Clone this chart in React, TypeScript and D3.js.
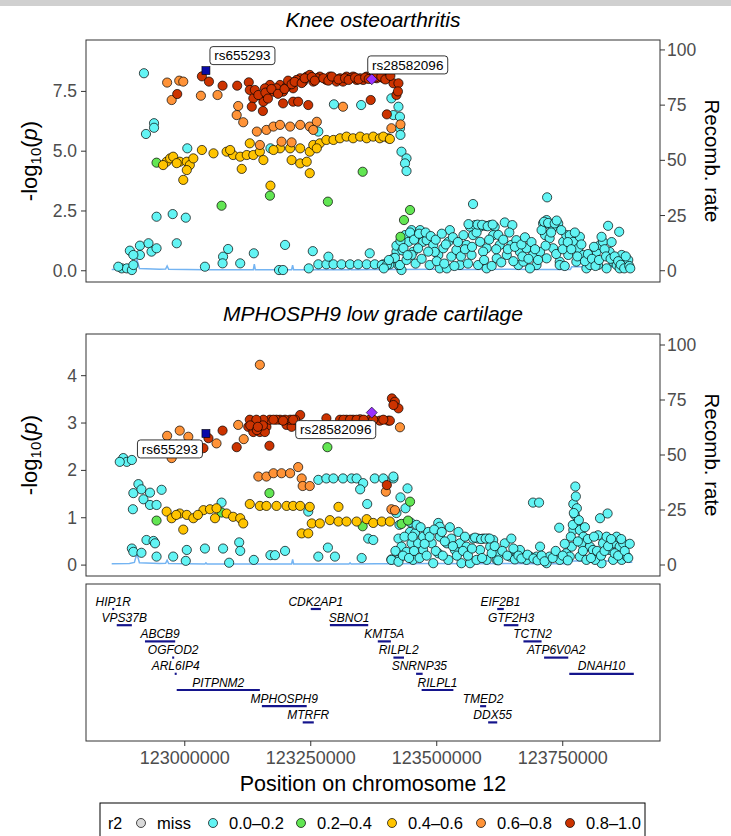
import React from 'react';
import * as d3 from 'd3';

// ---------- DATA (positions in kb on chr12, values -log10 p) ----------
const xTicks = [123000, 123250, 123500, 123750];
const kneeTicks = [0, 2.5, 5, 7.5];
const cartTicks = [0, 1, 2, 3, 4];
const recombTicks = [0, 25, 50, 75, 100];
const legendLabels = ['miss', '0.0\u20130.2', '0.2\u20130.4', '0.4\u20130.6', '0.6\u20130.8', '0.8\u20131.0'];

const leadNames = ['rs655293', 'rs28582096'];
const leadPos = [123042, 123371];
const kneeLead = [8.37, 8.01];
const cartLead = [2.78, 3.22];

// Knee osteoarthritis
const knee0: [number, number][] = [
  [122919, 8.26], [122923, 5.72], [122939, 6.17], [122939, 5.98], [123005, 5.12], [123170, 5.12],
  [123296, 6.96], [123350, 6.93], [123265, 5.82], [122944, 2.26], [122976, 2.37], [123002, 2.22],
  [123410, 7.21], [123424, 6.86], [123414, 6.51], [123427, 6.44], [123427, 5.96], [123428, 5.68],
  [123430, 4.98], [123440, 4.70], [123437, 4.49], [123440, 4.17],
  [122891, 0.84], [122911, 1.05], [122928, 1.15], [122934, 0.80], [122944, 0.94], [122911, 0.66],
  [122898, 0.66], [122984, 1.15], [122875, 0.10], [122885, 0.10], [122895, 0.03], [122898, 0.24],
  [122868, 0.17], [123040, 0.17], [123076, 0.59], [123086, 0.91], [123075, 0.31], [123110, 0.31],
  [123137, 0.73], [123199, 1.08], [123187, 0.03], [123195, 0.03], [123254, 0.82], [123246, 0.10],
  [123265, 0.27], [123281, 0.27], [123295, 0.27], [123311, 0.27], [123328, 0.27], [123344, 0.27],
  [123361, 0.27], [123377, 0.27], [123394, 0.27], [123407, 0.27], [123285, 0.59], [123367, 0.73],
  [123420, 0.80], [123430, 0.03], [123414, 0.52], [123424, 0.24],
  [123391, 0.24], [123401, 0.24], [123417, 0.54], [123427, 0.24], [123437, 1.49], [123444, 1.21],
  [123450, 1.70], [123460, 1.49], [123467, 1.70], [123453, 0.79], [123473, 1.21], [123450, 0.66],
  [123463, 0.94], [123480, 1.28], [123493, 1.08], [123503, 0.66], [123506, 0.10], [123513, 0.94],
  [123523, 1.21], [123526, 1.70], [123529, 0.59], [123539, 0.87], [123546, 0.24], [123553, 1.49],
  [123559, 1.08], [123520, 0.10], [123486, 0.24], [123496, 0.79], [123566, 1.84], [123576, 1.91],
  [123586, 1.84], [123596, 1.88], [123606, 1.91], [123615, 1.84], [123572, 1.49], [123586, 1.21],
  [123599, 0.94], [123612, 1.49], [123569, 0.66], [123582, 0.24], [123599, 0.10], [123619, 0.52],
  [123572, 2.79], [123635, 2.02], [123650, 1.91], [123625, 1.08], [123639, 0.66], [123648, 1.08],
  [123658, 1.28], [123665, 0.79], [123678, 0.94], [123691, 0.66], [123698, 0.24], [123685, 0.10],
  [123662, 0.24], [123672, 0.38], [123705, 0.79], [123711, 1.98], [123718, 2.12], [123724, 1.91],
  [123731, 1.84], [123741, 1.98], [123719, 3.07], [123715, 1.49], [123724, 1.36], [123731, 0.94],
  [123744, 0.38], [123718, 0.52], [123751, 1.21], [123757, 1.49], [123764, 1.49], [123771, 1.21],
  [123781, 0.94], [123791, 0.66], [123777, 0.38], [123797, 0.10], [123804, 0.24], [123784, 1.42],
  [123744, 0.24], [123761, 0.66], [123817, 0.79], [123824, 1.08], [123830, 1.21], [123840, 1.88],
  [123862, 1.63], [123843, 0.79], [123850, 0.38], [123857, 0.24], [123863, 0.10], [123870, 0.38],
  [123877, 0.24], [123837, 0.10], [123827, 1.42], [123820, 0.24], [123867, 0.66], [123880, 0.45],
  [123395, 0.10], [123405, 0.45], [123420, 1.05], [123432, 0.85], [123440, 0.45], [123447, 1.60],
  [123455, 1.30], [123458, 0.30], [123465, 1.55], [123470, 0.50], [123478, 1.60], [123483, 0.80],
  [123488, 1.45], [123498, 1.30], [123500, 0.40], [123510, 1.55], [123515, 0.30], [123518, 1.10],
  [123532, 1.40], [123535, 0.20], [123542, 1.20], [123548, 0.60], [123556, 0.90], [123562, 0.30],
  [123563, 1.95], [123570, 1.00], [123579, 1.60], [123581, 1.93], [123590, 1.92], [123592, 0.80],
  [123594, 0.45], [123601, 1.86], [123604, 1.30], [123609, 0.20], [123611, 1.93], [123618, 0.90],
  [123622, 1.50], [123628, 0.35], [123632, 1.30], [123641, 0.90], [123644, 1.60], [123652, 0.40],
  [123655, 1.00], [123668, 1.10], [123670, 0.60], [123675, 1.40], [123682, 0.50], [123688, 1.20],
  [123695, 0.90], [123701, 0.45], [123708, 1.70], [123713, 2.05], [123716, 1.05], [123721, 2.00],
  [123727, 1.60], [123734, 1.98], [123737, 0.70], [123738, 2.10], [123747, 1.70], [123750, 0.90],
  [123754, 0.20], [123760, 1.20], [123767, 0.90], [123774, 1.60], [123779, 0.60], [123787, 1.10],
  [123794, 0.40], [123800, 0.70], [123808, 0.50], [123812, 1.00], [123815, 0.20], [123822, 0.45],
  [123833, 0.90], [123836, 0.60], [123845, 0.50], [123847, 1.20], [123853, 0.60], [123860, 0.40],
  [123865, 0.25], [123872, 0.10], [123875, 0.60], [123882, 0.20], [123884, 0.10],
  [123428, 1.25], [123434, 0.95], [123442, 0.65],
];
const knee2: [number, number][] = [
  [122944, 4.52], [123169, 3.14], [123073, 2.72], [123284, 2.89], [123353, 4.14], [123447, 2.54],
  [123435, 2.12], [123428, 1.42],
];
const knee4: [number, number][] = [
  [122964, 4.56], [122971, 4.70], [122977, 4.77], [122990, 4.56], [123004, 4.56], [123010, 4.42],
  [123017, 4.70], [123004, 4.21], [122997, 3.80], [122984, 4.50], [122957, 4.42],
  [123034, 5.05], [123057, 4.91], [123083, 4.98], [123096, 4.84], [123110, 4.77], [123123, 4.84],
  [123136, 4.84], [123149, 4.98], [123156, 4.63], [123129, 5.33], [123189, 5.12], [123209, 5.12],
  [123229, 5.12], [123248, 4.98], [123255, 5.26], [123090, 5.05], [123176, 5.05], [123113, 4.26],
  [123212, 4.63], [123229, 4.49], [123242, 4.56], [123248, 4.08], [123170, 3.56],
  [123268, 5.33], [123281, 5.47], [123295, 5.47], [123308, 5.54], [123321, 5.61], [123334, 5.54],
  [123348, 5.61], [123361, 5.54], [123374, 5.61], [123387, 5.54], [123404, 5.54], [123394, 5.61],
  [123407, 5.51], [123262, 5.12],
];
const knee6: [number, number][] = [
  [122965, 7.87], [122989, 7.95], [122997, 7.91], [122974, 7.14], [123032, 7.32], [123065, 7.35],
  [123106, 6.89], [123103, 6.51], [123116, 6.21], [123314, 6.86],
  [123143, 5.82], [123162, 5.89], [123176, 6.03], [123189, 6.10], [123209, 6.03], [123229, 6.10],
  [123248, 6.03], [123262, 6.23], [123255, 5.89], [123149, 5.26], [123192, 5.40], [123212, 5.37],
  [123428, 6.12], [123410, 5.96],
];
const knee8: [number, number][] = [
  [123034, 8.13], [123048, 7.91], [123075, 7.74], [123104, 7.74], [122985, 7.39],
  [123127, 7.88], [123129, 7.56], [123136, 7.21], [123133, 6.86], [123153, 7.28], [123156, 7.07],
  [123155, 6.68], [123169, 7.77], [123176, 7.49], [123189, 7.77], [123195, 7.49], [123209, 7.84],
  [123215, 7.63], [123229, 8.05], [123242, 8.12], [123255, 7.91], [123268, 8.12], [123281, 7.98],
  [123295, 8.05], [123308, 8.05], [123321, 8.12], [123334, 8.12], [123348, 8.05], [123361, 8.12],
  [123381, 8.05], [123387, 8.19], [123401, 8.12], [123414, 7.84],
  [123139, 7.56], [123146, 7.35], [123159, 7.63], [123182, 7.63], [123202, 7.70], [123222, 7.98],
  [123235, 7.91], [123248, 8.19], [123262, 8.05], [123288, 8.12], [123301, 7.91], [123314, 7.91],
  [123328, 8.05], [123341, 7.98], [123354, 7.98], [123374, 8.12], [123394, 8.05],
  [123195, 7.00], [123215, 7.07], [123225, 7.07], [123245, 6.93],
  [123424, 7.84], [123420, 7.35], [123423, 7.50], [123401, 6.54], [123369, 7.14],
  [123160, 7.45], [123165, 7.20], [123172, 7.60], [123185, 7.40], [123198, 7.60], [123205, 7.95],
  [123212, 7.80], [123218, 7.90], [123232, 7.85], [123238, 8.05], [123252, 8.10], [123258, 7.95],
  [123275, 8.05], [123285, 7.95], [123292, 8.12], [123305, 8.00], [123318, 8.05], [123325, 7.98],
  [123338, 8.08], [123345, 8.00], [123358, 8.08], [123365, 8.02], [123378, 8.08], [123390, 8.12],
  [123398, 8.00], [123408, 8.15],
];

// MPHOSPH9 low grade cartilage
const cart0: [number, number][] = [
  [123265, 1.80], [123281, 1.83], [123295, 1.83], [123314, 1.83], [123331, 1.83], [123341, 1.83],
  [123354, 1.73], [123377, 1.83], [123394, 1.83], [123414, 1.83], [123348, 1.60],
  [122908, 1.71], [122898, 1.52], [122914, 1.60], [122931, 1.53], [122918, 1.39], [122931, 1.27],
  [122944, 1.27], [122897, 1.18], [122954, 1.59],
  [122878, 2.26], [122885, 2.18], [122895, 2.22], [122871, 2.18],
  [123245, 1.13], [123362, 1.29], [123073, 1.32],
  [122895, 0.35], [122898, 0.28], [122914, 0.26], [122924, 0.53], [122938, 0.51], [122941, 0.46],
  [122944, 0.18], [122977, 0.18], [123004, 0.32], [123002, 0.09], [123040, 0.35], [123076, 0.35],
  [123088, 0.05], [123108, 0.48], [123110, 0.30], [123137, 0.11], [123170, 0.21], [123179, 0.21],
  [123199, 0.30], [123265, 0.18], [123284, 0.37], [123298, 0.18], [123351, 0.15], [123364, 0.56],
  [123374, 0.53], [123410, 0.12], [123424, 0.11],
  [123442, 1.62], [123428, 1.43], [123414, 1.87], [123424, 0.56], [123430, 0.39], [123410, 0.11],
  [123424, 0.07], [123440, 0.28], [123447, 0.70], [123450, 0.46], [123453, 0.11], [123457, 0.67],
  [123463, 0.46], [123473, 0.60], [123473, 0.32], [123483, 0.70], [123490, 0.46], [123493, 0.04],
  [123503, 0.89], [123506, 0.81], [123506, 0.60], [123503, 0.25], [123520, 0.46], [123523, 0.11],
  [123529, 0.56], [123536, 0.32], [123546, 0.46], [123549, 0.04], [123559, 0.39], [123566, 0.04],
  [123572, 0.56], [123582, 0.56], [123592, 0.56], [123602, 0.56], [123612, 0.53], [123586, 0.32],
  [123579, 0.11], [123599, 0.11], [123619, 0.11], [123606, 0.39], [123625, 0.25], [123635, 0.46],
  [123648, 0.56], [123645, 0.18], [123658, 0.18], [123672, 0.18], [123685, 0.18], [123698, 0.18],
  [123711, 0.11], [123665, 0.32], [123678, 0.11], [123691, 1.32], [123703, 1.32], [123705, 0.39],
  [123718, 0.04], [123724, 0.18], [123743, 0.79], [123744, 0.11], [123757, 0.25], [123764, 0.18],
  [123768, 0.39], [123775, 1.66], [123771, 1.29], [123774, 1.06], [123771, 0.74], [123777, 0.88],
  [123784, 0.74], [123791, 0.60], [123787, 0.46], [123784, 0.18], [123797, 0.11], [123804, 0.39],
  [123810, 0.32], [123820, 0.63], [123824, 0.99], [123839, 1.09], [123830, 0.46], [123837, 0.60],
  [123843, 0.32], [123850, 0.46], [123857, 0.60], [123863, 0.39], [123870, 0.46], [123867, 0.11],
  [123850, 0.11], [123877, 0.18], [123827, 0.04], [123814, 0.11],
  [123418, 0.30], [123420, 1.10], [123426, 0.85], [123433, 0.20], [123436, 0.60], [123438, 1.20],
  [123445, 0.15], [123448, 0.90], [123452, 0.60], [123455, 0.30], [123460, 0.85], [123466, 0.15],
  [123468, 0.80], [123476, 0.45], [123480, 0.20], [123486, 0.60], [123495, 0.75], [123498, 0.30],
  [123510, 0.70], [123512, 0.20], [123516, 0.50], [123526, 0.80], [123532, 0.40], [123540, 0.20],
  [123543, 0.70], [123552, 0.30], [123556, 0.60], [123562, 0.20], [123570, 0.35], [123576, 0.58],
  [123588, 0.55], [123590, 0.15], [123597, 0.56], [123605, 0.56], [123609, 0.25], [123615, 0.40],
  [123622, 0.10], [123630, 0.30], [123640, 0.20], [123652, 0.35], [123655, 0.12], [123662, 0.20],
  [123668, 0.14], [123680, 0.22], [123692, 0.14], [123700, 0.10], [123708, 0.20], [123714, 0.08],
  [123730, 0.15], [123736, 0.30], [123750, 0.20], [123754, 0.45], [123760, 0.10], [123766, 0.60],
  [123770, 0.85], [123778, 1.20], [123780, 0.50], [123782, 0.95], [123790, 0.30], [123794, 0.80],
  [123800, 0.55], [123806, 0.15], [123812, 0.60], [123818, 0.30], [123826, 0.20], [123833, 0.30],
  [123840, 0.40], [123846, 0.55], [123853, 0.25], [123860, 0.20], [123866, 0.55], [123873, 0.30],
  [123880, 0.15], [123883, 0.45], [123776, 1.45], [123772, 1.10],
];
const cart2: [number, number][] = [
  [122944, 0.94], [123073, 1.11], [123168, 1.52], [123353, 0.82], [123447, 1.34], [123430, 0.87],
  [123443, 0.94], [123283, 2.49],
];
const cart4: [number, number][] = [
  [122964, 1.13], [122974, 0.99], [122990, 1.09], [123004, 1.06], [123017, 0.99], [123037, 1.16],
  [123050, 1.18], [123063, 1.20], [123083, 1.09], [123096, 1.02], [123110, 0.99], [123116, 0.88],
  [123060, 0.99], [122997, 0.75], [122983, 1.06], [123026, 1.06],
  [123129, 1.29], [123149, 1.25], [123162, 1.25], [123182, 1.25], [123202, 1.25], [123215, 1.25],
  [123229, 1.25], [123248, 1.23],
  [123252, 0.88], [123268, 0.88], [123288, 0.95], [123305, 0.92], [123321, 0.92], [123341, 0.92],
  [123361, 0.97], [123374, 0.89], [123391, 0.92], [123407, 0.92], [123232, 0.67], [123245, 0.67],
  [123305, 1.23],
];
const cart6: [number, number][] = [
  [123149, 4.23], [122990, 2.84], [123007, 2.71], [122965, 2.73], [123063, 2.57], [123106, 2.96],
  [123117, 2.66], [122974, 2.26], [123427, 2.91], [122983, 2.54],
  [123146, 1.87], [123162, 1.87], [123176, 1.94], [123192, 1.94], [123209, 1.94], [123225, 2.07],
  [123232, 1.83], [123234, 1.67], [123248, 1.67], [123399, 1.55], [123410, 1.18], [123417, 1.16],
];
const cart8: [number, number][] = [
  [123126, 2.92], [123136, 2.92], [123149, 2.92], [123162, 2.92], [123136, 2.81], [123149, 2.81],
  [123159, 2.81], [123202, 2.96], [123212, 2.92],
  [123129, 3.07], [123169, 3.07], [123189, 3.07], [123209, 3.07], [123229, 3.17], [123281, 3.10],
  [123308, 3.07], [123321, 3.07], [123334, 3.07], [123348, 3.08], [123367, 3.07], [123387, 3.05],
  [123404, 3.05], [123407, 3.05], [123156, 3.07], [123182, 3.07], [123199, 3.07], [123219, 3.07],
  [123411, 3.52], [123417, 3.45], [123424, 3.31], [123414, 3.38],
  [123103, 2.49], [123168, 2.52], [123075, 2.84], [123047, 2.68], [123037, 2.47], [123401, 1.69],
  [123142, 3.07], [123176, 3.07], [123195, 3.05], [123215, 3.07], [123315, 3.07], [123328, 3.07],
  [123341, 3.07], [123355, 3.07], [123374, 3.07], [123394, 3.07], [123130, 2.95], [123143, 2.85],
  [123155, 2.95], [123145, 2.92],
];

// Recombination rate (cM/Mb)
const recomb: [number, number][] = [
  [122855, 0.6], [122890, 0.7], [122900, 1.2], [122905, 5.2], [122910, 1.0], [122950, 0.7],
  [122962, 0.8], [122965, 2.2], [122968, 0.7], [123040, 0.5], [123042, 1.0], [123044, 0.5],
  [123136, 0.5], [123138, 3.0], [123140, 0.5], [123212, 0.5], [123214, 2.5], [123216, 0.5],
  [123300, 0.5], [123326, 0.5], [123328, 1.0], [123330, 0.5], [123380, 0.6], [123420, 0.6],
  [123500, 0.7], [123560, 0.6], [123640, 0.7], [123700, 0.6], [123765, 0.6], [123768, 1.8],
  [123860, 1.8], [123878, 1.5], [123880, 4.5], [123882, 1.2], [123888, 1.2],
];

// Genes: name, start kb, end kb, row
const geneNames = ['HIP1R', 'VPS37B', 'ABCB9', 'OGFOD2', 'ARL6IP4', 'PITPNM2', 'MPHOSPH9', 'MTRFR',
  'CDK2AP1', 'SBNO1', 'KMT5A', 'RILPL2', 'SNRNP35', 'RILPL1', 'TMED2', 'DDX55',
  'EIF2B1', 'GTF2H3', 'TCTN2', 'ATP6V0A2', 'DNAH10'];
const geneStart = [122856, 122865, 122921, 122975, 122980, 122984, 123153, 123234,
  123250, 123288, 123383, 123414, 123459, 123470, 123586, 123602,
  123620, 123633, 123672, 123713, 123763];
const geneEnd = [122859, 122895, 122981, 122979, 122983, 123149, 123242, 123256,
  123270, 123364, 123409, 123435, 123472, 123533, 123598, 123620,
  123633, 123662, 123708, 123761, 123891];
const geneRow = [0, 1, 2, 3, 4, 5, 6, 7, 0, 1, 2, 3, 4, 5, 6, 7, 0, 1, 2, 3, 4];

// ---------- STYLE ----------
const FONT = '"Liberation Sans", Arial, Helvetica, sans-serif';
const COLORS = ['#D9D9D9', '#62F4F4', '#62E653', '#FFC400', '#FF9338', '#CC3300'];
const TICK_COLOR = '#4D4D4D';
const R = 4.6;

const X0 = 86, X1 = 660;
const xDomain: [number, number] = [122804, 123943];

export default function App() {
  const x = d3.scaleLinear().domain(xDomain).range([X0, X1]);

  const panels = [
    {
      title: 'Knee osteoarthritis', top: 40, bottom: 282, yDom: [-0.47, 9.65], rDom: [-5.1, 104.5],
      yTicks: kneeTicks, fmt: d3.format('.1f'), groups: [knee0, knee2, knee4, knee6, knee8], lead: kneeLead,
      labelOff: [[36.5, -15], [36, -14.3]],
    },
    {
      title: 'MPHOSPH9 low grade cartilage', top: 334, bottom: 576, yDom: [-0.23, 4.88], rDom: [-5, 105],
      yTicks: cartTicks, fmt: d3.format('d'), groups: [cart0, cart2, cart4, cart6, cart8], lead: cartLead,
      labelOff: [[-36, 15.5], [-36, 17]],
    },
  ];

  const gTop = 584, gBot = 741;
  const rowY = (r: number) => 609 + 16.2 * r;
  const legendX = [141, 213, 301, 392, 481, 570];

  return (
    <div style={{ position: 'absolute', left: 0, top: 0 }}>
      <svg width={731} height={836} style={{ display: 'block', fontFamily: FONT }}>
        <rect x={0} y={0} width={731} height={836} fill="#fff" />
        <rect x={0} y={0} width={731} height={6} fill="#D0D0D0" />
        {panels.map((p, pi) => {
          const y = d3.scaleLinear().domain(p.yDom).range([p.bottom, p.top]);
          const yr = d3.scaleLinear().domain(p.rDom).range([p.bottom, p.top]);
          const line = d3.line<[number, number]>().x(d => x(d[0])).y(d => yr(d[1]));
          const mid = (p.top + p.bottom) / 2;
          const clipId = `clip${pi}`;
          return (
            <g key={pi}>
              <defs>
                <clipPath id={clipId}>
                  <rect x={X0} y={p.top} width={X1 - X0} height={p.bottom - p.top} />
                </clipPath>
              </defs>
              <text x={(X0 + X1) / 2} y={p.top - 13} textAnchor="middle" fontSize={21} fontStyle="italic" fill="#000">
                {p.title}
              </text>
              <g clipPath={`url(#${clipId})`}>
                <path d={line(recomb) || ''} fill="none" stroke="#74B4F2" strokeWidth={1.5} />
                {p.groups.map((grp, gi) => (
                  <g key={gi}>
                    {grp.map((d, i) => (
                      <circle key={i} cx={x(d[0])} cy={y(d[1])} r={R} fill={COLORS[gi + 1]} stroke="#000" strokeWidth={0.7} />
                    ))}
                  </g>
                ))}
                {/* lead SNPs */}
                <rect x={x(leadPos[0]) - 4} y={y(p.lead[0]) - 4} width={8} height={8} fill="#0A0AA8" stroke="#000" strokeWidth={0.6} />
                <path
                  d={`M${x(leadPos[1])},${y(p.lead[1]) - 5.5} L${x(leadPos[1]) + 5.5},${y(p.lead[1])} L${x(leadPos[1])},${y(p.lead[1]) + 5.5} L${x(leadPos[1]) - 5.5},${y(p.lead[1])} Z`}
                  fill="#9933FF" stroke="#000" strokeWidth={0.6}
                />
              </g>
              {leadNames.map((nm, li) => {
                const cx = x(leadPos[li]) + p.labelOff[li][0];
                const cy = y(p.lead[li]) + p.labelOff[li][1];
                const w = nm.length > 8 ? 80 : 65;
                return (
                  <g key={nm}>
                    <rect x={cx - w / 2} y={cy - 9} width={w} height={18} rx={3} fill="#fff" stroke="#000" strokeWidth={0.8} />
                    <text x={cx} y={cy + 4.8} textAnchor="middle" fontSize={13.5} fill="#000">{nm}</text>
                  </g>
                );
              })}
              <rect x={X0} y={p.top} width={X1 - X0} height={p.bottom - p.top} fill="none" stroke="#333" strokeWidth={1} />
              {/* left axis */}
              {p.yTicks.map(t => (
                <g key={t}>
                  <line x1={X0 - 5} x2={X0} y1={y(t)} y2={y(t)} stroke="#333" strokeWidth={1} />
                  <text x={X0 - 9} y={y(t) + 6} textAnchor="end" fontSize={17.5} fill={TICK_COLOR}>{p.fmt(t)}</text>
                </g>
              ))}
              {/* right axis */}
              {recombTicks.map(t => (
                <g key={t}>
                  <line x1={X1} x2={X1 + 5} y1={yr(t)} y2={yr(t)} stroke="#333" strokeWidth={1} />
                  <text x={X1 + 7} y={yr(t) + 6} textAnchor="start" fontSize={17.5} fill={TICK_COLOR}>{t}</text>
                </g>
              ))}
              <text transform={`translate(37,${mid}) rotate(-90)`} textAnchor="middle" fontSize={22} fill="#000">
                -log<tspan fontSize={15} dy={4}>10</tspan><tspan dy={-4}>(</tspan><tspan fontStyle="italic">p</tspan>)
              </text>
              <text transform={`translate(705,${mid}) rotate(90)`} textAnchor="middle" fontSize={20.5} fill="#000">
                Recomb. rate
              </text>
            </g>
          );
        })}

        {/* gene track */}
        <rect x={X0} y={gTop} width={X1 - X0} height={gBot - gTop} fill="none" stroke="#333" strokeWidth={1} />
        {geneNames.map((g, i) => {
          const xs = x(geneStart[i]);
          const xe = Math.max(x(geneEnd[i]), xs + 2);
          const yy = rowY(geneRow[i]);
          return (
            <g key={g}>
              <line x1={xs} x2={xe} y1={yy} y2={yy} stroke="#14148C" strokeWidth={2.2} />
              <text x={(xs + xe) / 2} y={yy - 3.5} textAnchor="middle" fontSize={12} fontStyle="italic" fill="#000">{g}</text>
            </g>
          );
        })}
        {xTicks.map(t => (
          <g key={t}>
            <line x1={x(t)} x2={x(t)} y1={gBot} y2={gBot + 5} stroke="#333" strokeWidth={1} />
            <text x={x(t)} y={gBot + 23} textAnchor="middle" fontSize={18} fill={TICK_COLOR}>{String(t * 1000)}</text>
          </g>
        ))}
        <text x={(X0 + X1) / 2} y={791} textAnchor="middle" fontSize={21.5} fill="#000">Position on chromosome 12</text>

        {/* legend */}
        <rect x={100} y={803} width={545} height={40} fill="#fff" stroke="#000" strokeWidth={1} />
        <text x={108} y={829} fontSize={16} fill="#000">r2</text>
        {legendLabels.map((lab, i) => {
          const cx = legendX[i];
          return (
            <g key={lab}>
              <circle cx={cx} cy={823} r={4.5} fill={COLORS[i]} stroke="#000" strokeWidth={0.7} />
              <text x={cx + 16} y={829} fontSize={16.5} fill="#000">{lab}</text>
            </g>
          );
        })}
      </svg>
    </div>
  );
}
